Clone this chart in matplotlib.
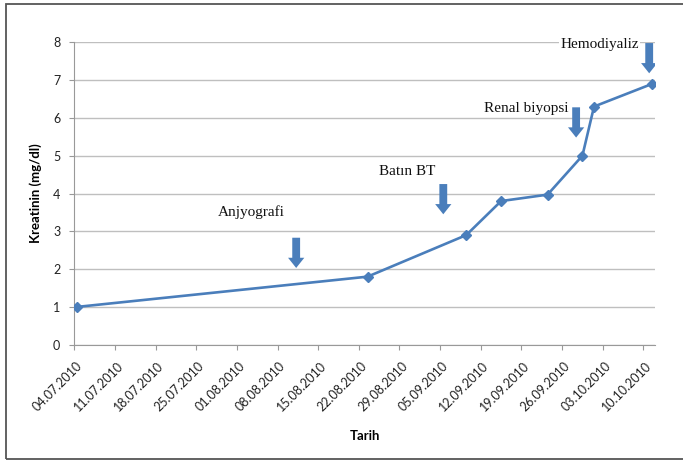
import matplotlib
matplotlib.use("Agg")
import matplotlib.pyplot as plt
import matplotlib.dates as mdates
from matplotlib.patches import FancyArrow, Rectangle
from matplotlib.transforms import ScaledTranslation
import pandas as pd

# Kreatinin measurements (values at mid-day)
dates = ["2010-07-04", "2010-08-23", "2010-09-09", "2010-09-15",
         "2010-09-23", "2010-09-29", "2010-10-01", "2010-10-11"]
kreatinin = [1.0, 1.8, 2.9, 3.8, 3.97, 5.0, 6.3, 6.9]

# clinical events marked with arrows
events = ["Anjyografi", "Batın BT", "Renal biyopsi", "Hemodiyaliz"]
event_times = ["2010-08-11 05:00", "2010-09-05 13:00", "2010-09-28 10:00", "2010-10-11 00:00"]
arrow_tips = [2.03, 3.45, 5.48, 7.18]
label_times = ["2010-08-03 10:00", "2010-08-30 08:00", "2010-09-19 21:00", "2010-10-02 12:00"]
label_y = [3.51, 4.58, 6.24, 7.93]

tick_dates = pd.date_range("2010-07-04", "2010-10-10", freq="7D")

blue = "#4A7EBB"
grid = "#BFBFBF"

fig = plt.figure(figsize=(6.83, 4.61), dpi=100)
ax = fig.add_axes([74.3 / 683, 116.3 / 461, (655 - 74.3) / 683, (344.7 - 42.3) / 461])

x = pd.to_datetime(dates) + pd.Timedelta(hours=12)
ax.plot(x, kreatinin, color=blue, lw=1.9, marker="D", ms=5.2, zorder=3)

ax.set_ylim(0, 8)
ax.set_xlim(pd.Timestamp("2010-07-04"), pd.Timestamp("2010-10-12"))
ax.set_yticks(range(0, 9))
ax.set_xticks(tick_dates)
ax.set_xticklabels([d.strftime("%d.%m.%Y") for d in tick_dates],
                   rotation=45, ha="right", va="center", rotation_mode="anchor")
ax.yaxis.grid(True, color=grid, lw=1.0)
ax.set_axisbelow(True)

for s in ["top", "right"]:
    ax.spines[s].set_visible(False)
for s in ["left", "bottom"]:
    ax.spines[s].set_color("#999999")
    ax.spines[s].set_linewidth(0.8)
ax.tick_params(axis="both", colors="#999999", length=3.6, width=0.8,
               labelcolor="#222222", labelsize=9)
ax.tick_params(axis="y", pad=6.5)
ax.tick_params(axis="x", pad=10.3)
shift = ScaledTranslation(6 / 100, 0, fig.dpi_scale_trans)
for lab in ax.get_xticklabels():
    lab.set_family("Lato")
    lab.set_transform(lab.get_transform() + shift)
for lab in ax.get_yticklabels():
    lab.set_family("Lato")

ax.set_ylabel("Kreatinin (mg/dl)", family="Lato", fontweight="bold", fontsize=9.5)
ax.set_xlabel("Tarih", family="Lato", fontweight="bold", fontsize=9.5)
ax.yaxis.set_label_coords(-0.056, 0.5)
ax.xaxis.set_label_coords(0.5, -0.282)

arrow_len = 0.8
for name, t, tip, lt, ly in zip(events, event_times, arrow_tips, label_times, label_y):
    xd = mdates.date2num(pd.Timestamp(t))
    ax.add_patch(FancyArrow(xd, tip + arrow_len, 0, -arrow_len, width=1.35,
                            head_width=2.8, head_length=0.27,
                            length_includes_head=True, color=blue, lw=0, zorder=4))
    ax.text(mdates.date2num(pd.Timestamp(lt)), ly, name, ha="center", va="center",
            family="Liberation Serif", fontsize=11, color="#111111", zorder=5,
            bbox=dict(fc="white", ec="none", pad=1.0))

# outer chart border
fig.patches.append(Rectangle((6 / 683, 2 / 461), 1.2, 455 / 461, transform=fig.transFigure,
                             fill=False, ec="#555555", lw=1.3))

fig.savefig("out.png", dpi=100)
